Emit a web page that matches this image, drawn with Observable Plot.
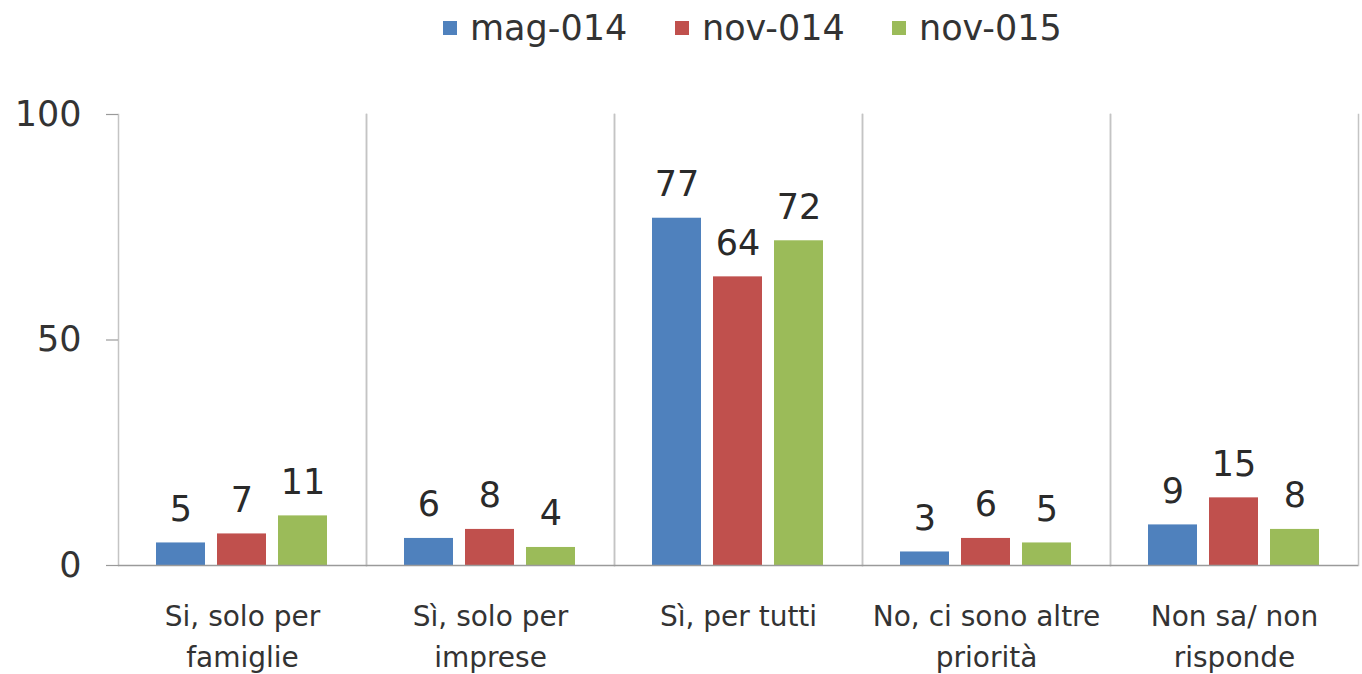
<!DOCTYPE html>
<html>
<head>
<meta charset="utf-8">
<script src="https://cdn.jsdelivr.net/npm/d3@7"></script>
<script src="https://cdn.jsdelivr.net/npm/@observablehq/plot@0.6"></script>
<style>
  body { margin: 0; background: #fff; font-family: "DejaVu Sans", sans-serif; }
  #wrap { position: relative; width: 1362px; height: 674px; overflow: hidden; }
  #legend { position: relative; height: 60px; }
  .item { position: absolute; top: 8px; display: flex; align-items: center; font-size: 35px; color: #333; }
  .sw { width: 14px; height: 14px; margin-right: 13px; }
  svg { display: block; overflow: visible; }
</style>
</head>
<body>
<div id="wrap">
  <div id="legend"></div>
  <div id="chart"></div>
</div>
<script>
const categories = ["Si, solo per famiglie", "Sì, solo per imprese", "Sì, per tutti", "No, ci sono altre priorità", "Non sa/ non risponde"];
const categoryLines = ["Si, solo per\nfamiglie", "Sì, solo per\nimprese", "Sì, per tutti", "No, ci sono altre\npriorità", "Non sa/ non\nrisponde"];
const series = ["mag-014", "nov-014", "nov-015"];
const colors = ["#4F81BD", "#C0504D", "#9BBB59"];
const mag014 = [5, 6, 77, 3, 9];
const nov014 = [7, 8, 64, 6, 15];
const nov015 = [11, 4, 72, 5, 8];
const yTicks = [0, 50, 100];
const legendLeft = [443, 675, 892];

const seriesValues = [mag014, nov014, nov015];
const rows = [];
categories.forEach((c, i) => {
  series.forEach((s, j) => rows.push({category: c, series: s, value: seriesValues[j][i]}));
});

// legend
const legend = document.getElementById("legend");
series.forEach((s, j) => {
  const it = document.createElement("div");
  it.className = "item";
  it.style.left = legendLeft[j] + "px";
  const sw = document.createElement("div");
  sw.className = "sw";
  sw.style.background = colors[j];
  const t = document.createElement("span");
  t.textContent = s;
  it.appendChild(sw);
  it.appendChild(t);
  legend.appendChild(it);
});

const chart = Plot.plot({
  width: 1362,
  height: 614,
  marginLeft: 117,
  marginRight: 4,
  marginTop: 54,
  marginBottom: 109,
  style: {fontFamily: "DejaVu Sans, sans-serif", background: "#fff", overflow: "visible"},
  fx: {domain: categories, padding: 0, label: null},
  x: {domain: series, paddingInner: 0.194, paddingOuter: 0.6, axis: null},
  y: {domain: [0, 100], label: null},
  color: {domain: series, range: colors},
  marks: [
    Plot.frame({anchor: "left", stroke: "#c4c4c4", strokeWidth: 1.5}),
    Plot.frame({anchor: "right", stroke: "#c4c4c4", strokeWidth: 1.5}),
    Plot.barY(rows, {fx: "category", x: "series", y: "value", fill: "series"}),
    Plot.text(rows, {fx: "category", x: "series", y: "value", text: d => String(d.value), lineAnchor: "bottom", dy: -22, fontSize: 35, fill: "#2a2a2a"}),
    Plot.ruleY([0], {stroke: "#9a9a9a", strokeWidth: 1.5}),
    Plot.axisY({ticks: yTicks, text: null, tickSize: 12, stroke: "#9a9a9a", strokeWidth: 1.2}),
    Plot.axisY({ticks: yTicks, tickSize: 0, tickPadding: 37, fontSize: 35, fill: "#333", tickFormat: d => String(d)}),
    Plot.axisFx({anchor: "bottom", tickSize: 0, tickPadding: 32, fontSize: 28, lineHeight: 1.45, fill: "#333",
      tickFormat: d => categoryLines[categories.indexOf(d)]})
  ]
});
document.getElementById("chart").appendChild(chart);
</script>
</body>
</html>
